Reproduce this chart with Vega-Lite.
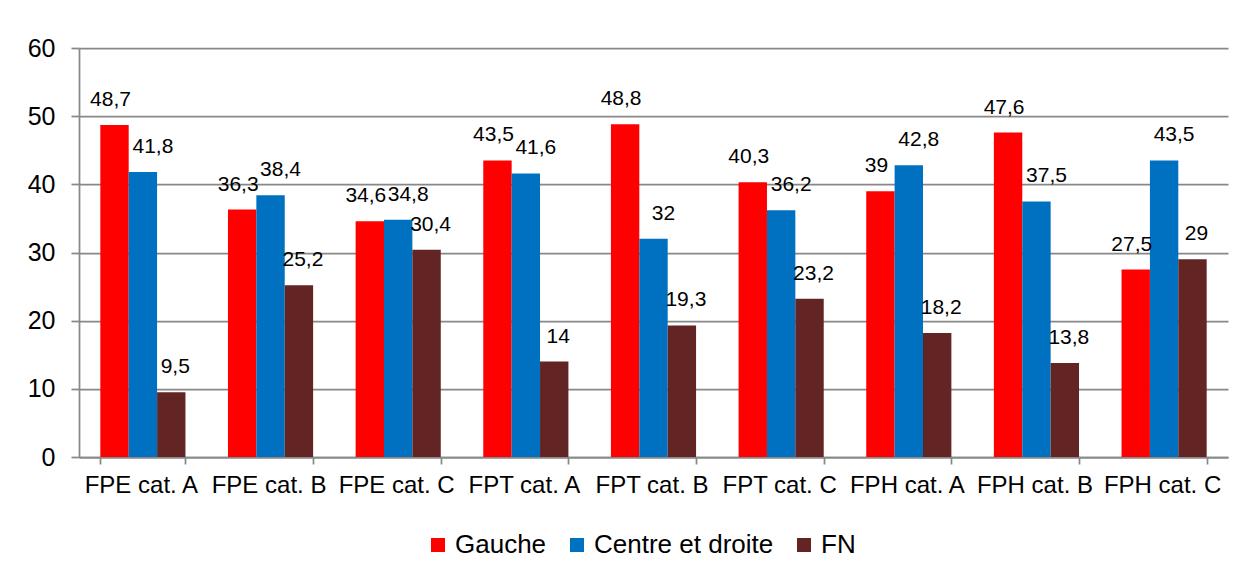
{
  "$schema": "https://vega.github.io/schema/vega-lite/v6.json",
  "width": 1149,
  "height": 409,
  "autosize": {"type": "none"},
  "padding": {"left": 79, "top": 48, "right": 22, "bottom": 126},
  "background": "white",
  "config": {
    "view": {"stroke": null},
    "font": "Liberation Sans",
    "locale": {"number": {"decimal": ",", "thousands": " ", "grouping": [3], "currency": ["", " €"]}}
  },
  "data": {
    "values": [
      {"cat": "FPE cat. A", "serie": "Gauche", "v": 48.7},
      {"cat": "FPE cat. A", "serie": "Centre et droite", "v": 41.8},
      {"cat": "FPE cat. A", "serie": "FN", "v": 9.5},
      {"cat": "FPE cat. B", "serie": "Gauche", "v": 36.3},
      {"cat": "FPE cat. B", "serie": "Centre et droite", "v": 38.4},
      {"cat": "FPE cat. B", "serie": "FN", "v": 25.2},
      {"cat": "FPE cat. C", "serie": "Gauche", "v": 34.6},
      {"cat": "FPE cat. C", "serie": "Centre et droite", "v": 34.8},
      {"cat": "FPE cat. C", "serie": "FN", "v": 30.4},
      {"cat": "FPT cat. A", "serie": "Gauche", "v": 43.5},
      {"cat": "FPT cat. A", "serie": "Centre et droite", "v": 41.6},
      {"cat": "FPT cat. A", "serie": "FN", "v": 14},
      {"cat": "FPT cat. B", "serie": "Gauche", "v": 48.8},
      {"cat": "FPT cat. B", "serie": "Centre et droite", "v": 32},
      {"cat": "FPT cat. B", "serie": "FN", "v": 19.3},
      {"cat": "FPT cat. C", "serie": "Gauche", "v": 40.3},
      {"cat": "FPT cat. C", "serie": "Centre et droite", "v": 36.2},
      {"cat": "FPT cat. C", "serie": "FN", "v": 23.2},
      {"cat": "FPH cat. A", "serie": "Gauche", "v": 39},
      {"cat": "FPH cat. A", "serie": "Centre et droite", "v": 42.8},
      {"cat": "FPH cat. A", "serie": "FN", "v": 18.2},
      {"cat": "FPH cat. B", "serie": "Gauche", "v": 47.6},
      {"cat": "FPH cat. B", "serie": "Centre et droite", "v": 37.5},
      {"cat": "FPH cat. B", "serie": "FN", "v": 13.8},
      {"cat": "FPH cat. C", "serie": "Gauche", "v": 27.5},
      {"cat": "FPH cat. C", "serie": "Centre et droite", "v": 43.5},
      {"cat": "FPH cat. C", "serie": "FN", "v": 29}
    ]
  },
  "encoding": {
    "x": {
      "field": "cat",
      "type": "nominal",
      "sort": null,
      "scale": {"paddingInner": 0.333, "paddingOuter": 0.167},
      "axis": {
        "title": null,
        "labelAngle": 0,
        "labelFontSize": 24,
        "labelColor": "#000000",
        "labelPadding": 9,
        "labelOffset": -2,
        "labelLimit": 300,
        "tickBand": "extent",
        "tickSize": 7,
        "tickColor": "#888888",
        "tickWidth": 1.75,
        "domainColor": "#888888",
        "domainWidth": 1.75,
        "grid": false
      }
    },
    "xOffset": {"field": "serie", "type": "nominal", "sort": ["Gauche", "Centre et droite", "FN"], "scale": {"paddingInner": 0}},
    "y": {
      "field": "v",
      "type": "quantitative",
      "scale": {"domain": [0, 60], "nice": false},
      "axis": {
        "title": null,
        "values": [0, 10, 20, 30, 40, 50, 60],
        "labelFontSize": 25,
        "labelColor": "#000000",
        "labelPadding": 16,
        "tickSize": 8,
        "tickColor": "#888888",
        "tickWidth": 1.75,
        "domainColor": "#888888",
        "domainWidth": 1.75,
        "grid": true,
        "gridColor": "#888888",
        "gridWidth": 1.75
      }
    }
  },
  "layer": [
    {
      "mark": {"type": "bar"},
      "encoding": {
        "color": {
          "field": "serie",
          "type": "nominal",
          "scale": {"domain": ["Gauche", "Centre et droite", "FN"], "range": ["#FF0000", "#0070C0", "#632523"]},
          "legend": {
            "title": null,
            "orient": "none",
            "direction": "horizontal",
            "legendX": 346,
            "legendY": 484,
            "symbolType": "square",
            "symbolSize": 196,
            "symbolStrokeWidth": 0,
            "symbolOpacity": 1,
            "labelFontSize": 26,
            "labelLimit": 400,
            "labelColor": "#000000",
            "labelOffset": 4,
            "columnPadding": 17
          }
        }
      }
    },
    {
      "transform": [{"filter": "datum.serie === 'Gauche'"}],
      "mark": {"type": "text", "baseline": "alphabetic", "dy": -19, "dx": -4, "fontSize": 21, "color": "#000000"},
      "encoding": {
        "text": {"field": "v", "type": "quantitative", "format": ".1~f"}
      }
    },
    {
      "transform": [{"filter": "datum.serie === 'Centre et droite'"}],
      "mark": {"type": "text", "baseline": "alphabetic", "dy": -19, "dx": 10, "fontSize": 21, "color": "#000000"},
      "encoding": {
        "text": {"field": "v", "type": "quantitative", "format": ".1~f"}
      }
    },
    {
      "transform": [{"filter": "datum.serie === 'FN'"}],
      "mark": {"type": "text", "baseline": "alphabetic", "dy": -19, "dx": 4, "fontSize": 21, "color": "#000000"},
      "encoding": {
        "text": {"field": "v", "type": "quantitative", "format": ".1~f"}
      }
    }
  ]
}
